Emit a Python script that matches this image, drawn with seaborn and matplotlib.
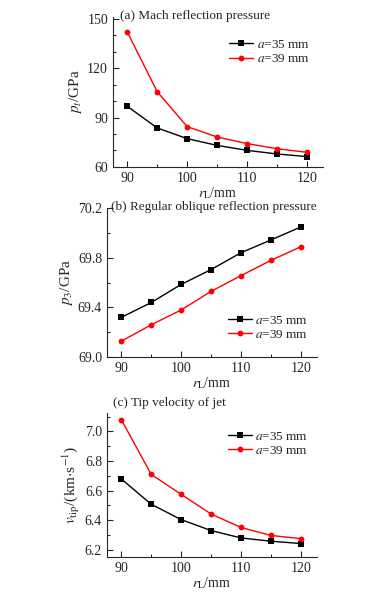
import matplotlib
matplotlib.use("Agg")
import matplotlib.pyplot as plt
from matplotlib.ticker import MultipleLocator
import seaborn as sns
import pandas as pd

r_L = [90, 95, 100, 105, 110, 115, 120]
labels = ["$a$=35 mm", "$a$=39 mm"]

pt_35 = [96.8, 83.7, 77.2, 73.1, 70.1, 67.9, 66.3]
pt_39 = [141.9, 105.7, 84.5, 78.2, 74.2, 71.1, 68.9]

p3_35 = [69.32, 69.44, 69.586, 69.706, 69.842, 69.945, 70.05]
p3_39 = [69.128, 69.26, 69.38, 69.53, 69.657, 69.78, 69.89]

vtip_35 = [6.678, 6.507, 6.403, 6.329, 6.279, 6.257, 6.241]
vtip_39 = [7.079, 6.709, 6.574, 6.441, 6.35, 6.296, 6.274]

sns.set_style("ticks")
plt.rcParams["font.family"] = ["Liberation Serif", "DejaVu Serif"]
plt.rcParams["mathtext.fontset"] = "stix"
plt.rcParams["font.size"] = 9

fig = plt.figure(figsize=(3.84, 5.97), dpi=100)

def make_df(s35, s39):
    return pd.DataFrame({
        "r": r_L + r_L,
        "val": s35 + s39,
        "a": [labels[0]] * len(r_L) + [labels[1]] * len(r_L),
    })

def draw(rect, s35, s39, ylim, ymaj, yoff, ymin, ylabel, title, title_xy, legend_anchor):
    ax = fig.add_axes(rect)
    df = make_df(s35, s39)
    sns.lineplot(data=df, x="r", y="val", hue="a", style="a",
                 markers=["s", "o"], dashes=False, palette=["black", "red"],
                 markersize=4.2, linewidth=1.0, markeredgewidth=0, ax=ax)
    ax.set_xlim(87.6, 122.7)
    ax.set_ylim(*ylim)
    ax.xaxis.set_major_locator(MultipleLocator(10))
    ax.xaxis.set_minor_locator(MultipleLocator(5))
    ax.yaxis.set_major_locator(MultipleLocator(ymaj, offset=yoff))
    ax.yaxis.set_minor_locator(MultipleLocator(ymin))
    ax.tick_params(which="major", direction="in", length=4, width=0.8, labelsize=10)
    ax.tick_params(which="minor", direction="in", length=2, width=0.8)
    for s in ["top", "right"]:
        ax.spines[s].set_visible(False)
    for s in ["left", "bottom"]:
        ax.spines[s].set_linewidth(0.8)
    ax.set_xlabel("$r_{\\mathrm{L}}$/mm", fontsize=10, labelpad=0)
    ax.set_ylabel(ylabel, fontsize=11, labelpad=2)
    ax.legend(loc="upper left", bbox_to_anchor=legend_anchor, frameon=False,
              fontsize=9.5, handlelength=1.8, handletextpad=0.3,
              labelspacing=0.15, borderaxespad=0)
    fig.text(title_xy[0], title_xy[1], title, fontsize=9.5, ha="left", va="center")
    return ax

draw([0.294, 0.7203, 0.547, 0.2513], pt_35, pt_39, (60, 151), 30, 0, 10,
     "$p_{t}$/GPa", "(a) Mach reflection pressure", (120/384, 1 - 16/597),
     (0.53, 0.89))
draw([0.2786, 0.402, 0.547, 0.249], p3_35, p3_39, (69.0, 70.2), 0.4, 0.2, 0.2,
     "$p_{3}$/GPa", "(b) Regular oblique reflection pressure", (111/384, 1 - 207/597),
     (0.55, 0.323))
draw([0.2786, 0.067, 0.547, 0.241], vtip_35, vtip_39, (6.15, 7.124), 0.2, 0, 0.1,
     "$v_{\\mathrm{tip}}$/(km$\\cdot$s$^{-1}$)", "(c) Tip velocity of jet", (113/384, 1 - 403/597),
     (0.55, 0.917))

fig.savefig("out.png", dpi=100)
